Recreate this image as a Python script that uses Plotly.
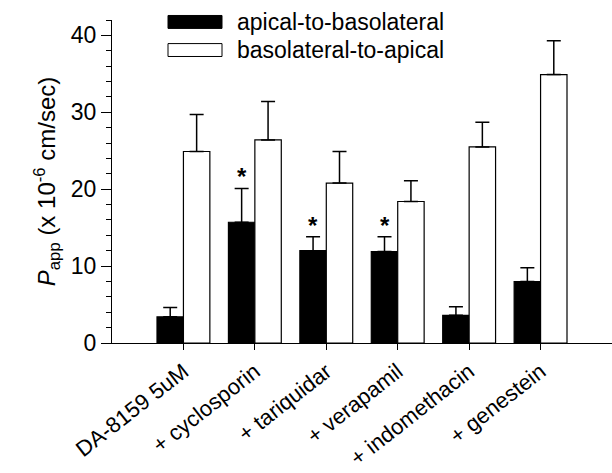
import plotly.graph_objects as go

categories = ["DA-8159 5uM", "+ cyclosporin", "+ tariquidar", "+ verapamil", "+ indomethacin", "+ genestein"]
ab_values = [3.4, 15.7, 12.0, 11.9, 3.6, 8.0]
ab_errors = [1.2, 4.4, 1.8, 1.9, 1.1, 1.8]
ba_values = [24.9, 26.4, 20.8, 18.4, 25.5, 34.9]
ba_errors = [4.8, 5.0, 4.1, 2.7, 3.2, 4.4]
significant = [False, True, True, True, False, False]
series_names = ["apical-to-basolateral", "basolateral-to-apical"]

FONT = "Arial, Liberation Sans, Helvetica, sans-serif"

fig = go.Figure()
fig.add_trace(go.Bar(
    x=categories, y=ab_values, name=series_names[0],
    marker=dict(color="black", line=dict(color="black", width=1.2)),
    error_y=dict(type="data", array=ab_errors, arrayminus=[0]*len(ab_errors),
                 symmetric=False, color="black", thickness=1.5, width=7),
    showlegend=False,
))
fig.add_trace(go.Bar(
    x=categories, y=ba_values, name=series_names[1],
    marker=dict(color="white", line=dict(color="black", width=1.2)),
    error_y=dict(type="data", array=ba_errors, arrayminus=[0]*len(ba_errors),
                 symmetric=False, color="black", thickness=1.5, width=7),
    showlegend=False,
))

annotations = []
for i, (v, e, s) in enumerate(zip(ab_values, ab_errors, significant)):
    if s:
        annotations.append(dict(x=i, y=v + e, xref="x", yref="y", text="<b>*</b>",
                                showarrow=False, xshift=-13, yshift=-4,
                                yanchor="bottom",
                                font=dict(family=FONT, size=24, color="black")))

# manual legend
legend_y = [0.994, 0.907]
shapes = []
fills = ["black", "white"]
for name, fy, fc in zip(series_names, legend_y, fills):
    shapes.append(dict(type="rect", xref="paper", yref="paper",
                       x0=0.112, x1=0.22, y0=fy - 0.02, y1=fy + 0.02,
                       fillcolor=fc, line=dict(color="black", width=1)))
    annotations.append(dict(x=0.246, y=fy, xref="paper", yref="paper",
                            text=name, showarrow=False, xanchor="left",
                            yanchor="middle",
                            font=dict(family=FONT, size=23, color="black")))

fig.update_layout(
    width=612, height=473,
    margin=dict(l=112, r=0, t=20, b=130),
    paper_bgcolor="white", plot_bgcolor="white",
    barmode="group", bargap=0.26, bargroupgap=0,
    font=dict(family=FONT, size=22, color="black"),
    annotations=annotations, shapes=shapes,
    xaxis=dict(
        type="category", range=[-1, 6], showgrid=False, zeroline=False,
        automargin=False,
        showline=True, linecolor="black", linewidth=1.2,
        ticks="outside", ticklen=6, tickcolor="black", tickwidth=1,
        tickangle=-38, tickfont=dict(family=FONT, size=22, color="black"),
    ),
    yaxis=dict(
        range=[0, 42], showgrid=False, zeroline=False,
        automargin=False,
        showline=True, linecolor="black", linewidth=1.2,
        tickvals=[0, 10, 20, 30, 40],
        ticks="outside", ticklen=10, tickcolor="black", tickwidth=1,
        minor=dict(dtick=2, ticks="outside", ticklen=5, tickcolor="black", tickwidth=1),
        tickfont=dict(family=FONT, size=23, color="black"),
        title=dict(text="<i>P</i><sub>app</sub> (x 10<sup>-6</sup> cm/sec)",
                   font=dict(family=FONT, size=24, color="black"), standoff=8),
    ),
)

fig.write_html("out.html")
